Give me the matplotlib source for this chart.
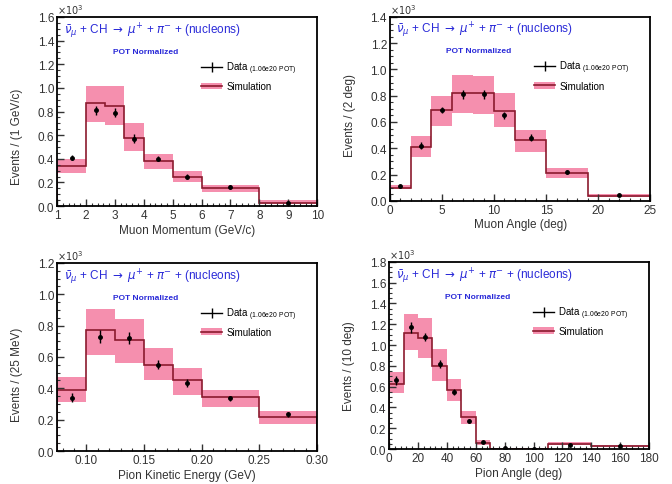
import numpy as np
import matplotlib
matplotlib.use('Agg')
import matplotlib.pyplot as plt
from matplotlib.ticker import MultipleLocator, AutoMinorLocator, FormatStrFormatter
from matplotlib.patches import Patch
from matplotlib.lines import Line2D

plt.rcParams['font.family'] = ['Liberation Sans', 'DejaVu Sans']

# Muon momentum (x10^3 events / 1 GeV/c)
mom_edges = [1, 2, 2.67, 3.33, 4, 5, 6, 8, 10]
mom_sim = [0.34, 0.87, 0.85, 0.58, 0.38, 0.25, 0.15, 0.03]
mom_lo = [0.28, 0.71, 0.69, 0.47, 0.31, 0.20, 0.12, 0.015]
mom_hi = [0.40, 1.02, 1.02, 0.70, 0.44, 0.30, 0.18, 0.05]
mom_data = [0.41, 0.81, 0.79, 0.57, 0.40, 0.25, 0.16, 0.03]
mom_err = [0.02, 0.04, 0.04, 0.04, 0.02, 0.02, 0.015, 0.01]

# Muon angle (x10^3 events / 2 deg)
ang_edges = [0, 2, 4, 6, 8, 10, 12, 15, 19, 25]
ang_sim = [0.10, 0.41, 0.69, 0.82, 0.82, 0.68, 0.46, 0.21, 0.035]
ang_lo = [0.09, 0.33, 0.57, 0.67, 0.66, 0.56, 0.37, 0.17, 0.025]
ang_hi = [0.12, 0.49, 0.80, 0.96, 0.95, 0.82, 0.54, 0.25, 0.05]
ang_data = [0.11, 0.42, 0.69, 0.81, 0.81, 0.65, 0.48, 0.22, 0.045]
ang_err = [0.01, 0.025, 0.025, 0.035, 0.035, 0.025, 0.025, 0.015, 0.01]

# Pion kinetic energy (x10^3 events / 25 MeV)
ke_edges = [0.075, 0.10, 0.125, 0.15, 0.175, 0.20, 0.25, 0.30]
ke_sim = [0.39, 0.77, 0.705, 0.55, 0.455, 0.345, 0.22]
ke_lo = [0.31, 0.61, 0.56, 0.45, 0.36, 0.28, 0.17]
ke_hi = [0.47, 0.905, 0.845, 0.655, 0.53, 0.39, 0.256]
ke_data = [0.34, 0.73, 0.72, 0.55, 0.435, 0.335, 0.235]
ke_err = [0.03, 0.04, 0.04, 0.03, 0.025, 0.015, 0.015]

# Pion angle (x10^3 events / 10 deg)
pa_edges = [0, 10, 20, 30, 40, 50, 60, 70, 90, 110, 140, 180]
pa_sim = [0.63, 1.12, 1.07, 0.80, 0.57, 0.31, 0.06, 0.005, 0.005, 0.05, 0.03]
pa_lo = [0.54, 0.95, 0.88, 0.65, 0.46, 0.24, 0.04, 0.0, 0.0, 0.035, 0.02]
pa_hi = [0.74, 1.30, 1.26, 0.96, 0.67, 0.37, 0.085, 0.01, 0.01, 0.065, 0.04]
pa_data = [0.66, 1.17, 1.08, 0.82, 0.55, 0.27, 0.065, 0.01, 0.0, 0.04, 0.03]
pa_err = [0.04, 0.05, 0.04, 0.04, 0.03, 0.02, 0.01, 0.005, 0.005, 0.01, 0.005]

pink = '#f26a93'
simline = '#8b1a2e'
blue = '#2a2ad8'
reaction = r'$\bar{\nu}_{\mu}$ + CH $\rightarrow$ $\mu^{+}$ + $\pi^{-}$ + (nucleons)'

panels = [
    dict(pos=[0.085, 0.573, 0.387, 0.390], edges=mom_edges, sim=mom_sim, lo=mom_lo, hi=mom_hi,
         data=mom_data, err=mom_err, xlim=(1, 10), ylim=(0, 1.6), xmaj=1, xfmt='%d',
         xlabel='Muon Momentum (GeV/c)', ylabel='Events / (1 GeV/c)', ly=0.37),
    dict(pos=[0.580, 0.584, 0.388, 0.379], edges=ang_edges, sim=ang_sim, lo=ang_lo, hi=ang_hi,
         data=ang_data, err=ang_err, xlim=(0, 25), ylim=(0, 1.4), xmaj=5, xfmt='%d',
         xlabel='Muon Angle (deg)', ylabel='Events / (2 deg)', ly=0.47),
    dict(pos=[0.085, 0.068, 0.387, 0.388], edges=ke_edges, sim=ke_sim, lo=ke_lo, hi=ke_hi,
         data=ke_data, err=ke_err, xlim=(0.075, 0.30), ylim=(0, 1.2), xmaj=0.05, xfmt='%.2f',
         xlabel='Pion Kinetic Energy (GeV)', ylabel='Events / (25 MeV)', ly=0.41),
    dict(pos=[0.579, 0.072, 0.387, 0.386], edges=pa_edges, sim=pa_sim, lo=pa_lo, hi=pa_hi,
         data=pa_data, err=pa_err, xlim=(0, 180), ylim=(0, 1.8), xmaj=20, xfmt='%d',
         xlabel='Pion Angle (deg)', ylabel='Events / (10 deg)', ly=0.45),
]

fig = plt.figure(figsize=(6.72, 4.85), dpi=100)

for p in panels:
    ax = fig.add_axes(p['pos'])
    e = np.array(p['edges'], dtype=float)
    sim = np.array(p['sim'])
    ax.stairs(p['hi'], e, baseline=p['lo'], fill=True, color=pink, alpha=0.75, lw=0)
    ax.stairs(sim, e, color=simline, lw=1.2)
    centers = 0.5 * (e[:-1] + e[1:])
    ax.errorbar(centers, p['data'], yerr=p['err'], fmt='o', color='black', ms=2.5,
                elinewidth=1, capsize=0)
    ax.set_xlim(*p['xlim'])
    ax.set_ylim(*p['ylim'])
    ax.xaxis.set_major_locator(MultipleLocator(p['xmaj']))
    ax.xaxis.set_major_formatter(FormatStrFormatter(p['xfmt']))
    ax.yaxis.set_major_locator(MultipleLocator(0.2))
    ax.yaxis.set_major_formatter(FormatStrFormatter('%.1f'))
    ax.xaxis.set_minor_locator(AutoMinorLocator(5))
    ax.yaxis.set_minor_locator(AutoMinorLocator(4))
    ax.tick_params(which='both', direction='in', top=False, right=False, labelsize=8.5,
                   pad=2, colors='#333333')
    ax.tick_params(which='major', length=5, width=1)
    ax.tick_params(which='minor', length=2.5, width=0.8)
    for s in ax.spines.values():
        s.set_linewidth(1.3)
    ax.set_xlabel(p['xlabel'], fontsize=8.5, color='#333333', labelpad=2)
    ax.set_ylabel(p['ylabel'], fontsize=8.5, color='#333333', labelpad=4)
    ax.yaxis.set_label_coords(-0.13, p['ly'])
    ax.text(0.0, 1.005, r'$\times10^{3}$', transform=ax.transAxes, fontsize=7,
            ha='left', va='bottom', color='#333333')
    ax.text(0.025, 0.93, reaction, transform=ax.transAxes, fontsize=8.5, color=blue,
            ha='left', va='center')
    ax.text(0.34, 0.815, 'POT Normalized', transform=ax.transAxes, fontsize=6,
            fontweight='bold', color=blue, ha='center', va='center')
    handles = [
        Line2D([0], [0], color='black', lw=1, marker='|', ms=7, mew=1),
        (Patch(facecolor=pink, alpha=0.75), Line2D([0], [0], color=simline, lw=1.2)),
    ]
    ax.legend(handles, ['Data $\\mathregular{_{(1.06e20\\ POT)}}$', 'Simulation'],
              loc='upper left', bbox_to_anchor=(0.52, 0.82), frameon=False,
              fontsize=7, handlelength=2.2, handletextpad=0.4, labelspacing=0.55)

plt.savefig('out.png', dpi=100)
